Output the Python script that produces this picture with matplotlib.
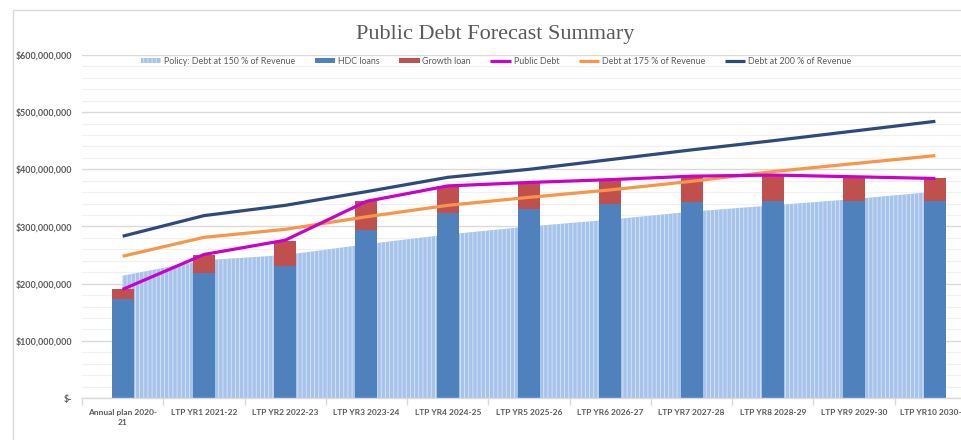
import matplotlib
matplotlib.use("Agg")
import matplotlib.pyplot as plt
import numpy as np
from matplotlib.patches import Rectangle
from matplotlib.ticker import FuncFormatter, MultipleLocator

plt.rcParams['font.family'] = ['Lato', 'DejaVu Sans']
plt.rcParams['hatch.linewidth'] = 0.6

categories = ["Annual plan 2020-\n21", "LTP YR1 2021-22", "LTP YR2 2022-23", "LTP YR3 2023-24",
              "LTP YR4 2024-25", "LTP YR5 2025-26", "LTP YR6 2026-27", "LTP YR7 2027-28",
              "LTP YR8 2028-29", "LTP YR9 2029-30", "LTP YR10 2030-31"]

policy_150 = [214e6, 241e6, 250e6, 269e6, 286e6, 300e6, 312e6, 326e6, 337e6, 348e6, 361e6]
hdc_loans = [174e6, 218e6, 231e6, 294e6, 323e6, 331e6, 339e6, 343e6, 344e6, 344e6, 344e6]
growth_loan = [16e6, 33e6, 44e6, 50e6, 48e6, 46e6, 43e6, 45e6, 46e6, 43e6, 40e6]
public_debt = [190e6, 251e6, 276e6, 344e6, 371e6, 377e6, 382e6, 388e6, 390e6, 387e6, 384e6]
debt_175 = [248e6, 281e6, 295e6, 317e6, 337e6, 351e6, 364e6, 379e6, 396e6, 410e6, 424e6]
debt_200 = [283e6, 319e6, 337e6, 361e6, 386e6, 400e6, 417e6, 434e6, 450e6, 467e6, 484e6]

W, H = 961, 440
fig = plt.figure(figsize=(W / 100, H / 100), dpi=100)

# outer chart border
fig.patches.append(Rectangle((13 / W, -0.1), 1.1, (440 - 10) / H + 0.1, transform=fig.transFigure,
                             fill=False, edgecolor='#d9d9d9', linewidth=1.0))

left, right, bottom, top = 82, 976, 398, 55
ax = fig.add_axes([left / W, (H - bottom) / H, (right - left) / W, (bottom - top) / H])

x = np.arange(len(categories))
grey = '#595959'

ax.fill_between(x, 0, policy_150, facecolor='#a6c3ec', edgecolor='#dbe6f7', hatch='||||',
                linewidth=0, zorder=1, label='Policy: Debt at 150 % of Revenue')
bw = 0.27
ax.bar(x, hdc_loans, width=bw, color='#4f81bd', zorder=2, label='HDC loans')
ax.bar(x, growth_loan, width=bw, bottom=hdc_loans, color='#c0504d', zorder=2, label='Growth loan')
ax.plot(x, public_debt, color='#cc00cc', lw=2.3, zorder=4, label='Public Debt', solid_capstyle='butt')
ax.plot(x, debt_175, color='#f79646', lw=2.3, zorder=3, label='Debt at 175 % of Revenue', solid_capstyle='butt')
ax.plot(x, debt_200, color='#2e4a7a', lw=2.3, zorder=3, label='Debt at 200 % of Revenue', solid_capstyle='butt')

ax.set_xlim(-0.5, len(categories) - 0.5)
ax.set_ylim(0, 600e6)
ax.yaxis.set_major_locator(MultipleLocator(100e6))
ax.yaxis.set_minor_locator(MultipleLocator(20e6))
ax.grid(axis='y', which='major', color='#d9d9d9', lw=1.0, zorder=0)
ax.grid(axis='y', which='minor', color='#f0f0f0', lw=0.9, zorder=0)
ax.set_axisbelow(True)

def fmt(v, pos):
    if v == 0:
        return '$-'
    return '${:,.0f}'.format(v)
ax.yaxis.set_major_formatter(FuncFormatter(fmt))

for s in ['top', 'right', 'left']:
    ax.spines[s].set_visible(False)
ax.spines['bottom'].set_color('#d9d9d9')
ax.spines['bottom'].set_linewidth(1.0)

ax.set_xticks(x)
ax.set_xticklabels(categories, fontsize=6.0, fontweight='bold', color=grey, linespacing=1.5)
ax.set_xticks(np.arange(-0.5, len(categories), 1.0), minor=True)
ax.tick_params(axis='x', which='major', length=0, pad=8)
ax.tick_params(axis='x', which='minor', length=5, color='#d9d9d9', width=1.0)
ax.tick_params(axis='y', which='both', length=0, pad=7)
for lab in ax.get_yticklabels():
    lab.set_fontsize(6.4)
    lab.set_fontweight('bold')
    lab.set_color(grey)

fig.text(495 / W, 1 - 34 / H, 'Public Debt Forecast Summary', ha='center', va='center',
         fontsize=16, color=grey, family=['Liberation Serif', 'DejaVu Serif'])

handles, labels = ax.get_legend_handles_labels()
order = ['Policy: Debt at 150 % of Revenue', 'HDC loans', 'Growth loan', 'Public Debt',
         'Debt at 175 % of Revenue', 'Debt at 200 % of Revenue']
hmap = dict(zip(labels, handles))
leg = fig.legend([hmap[k] for k in order], order, loc='center', bbox_to_anchor=(496 / W, 1 - 61 / H),
                 ncol=6, frameon=False, fontsize=6.4, handlelength=2.3, handleheight=0.6,
                 handletextpad=0.3, columnspacing=2.2, borderpad=0)
for t in leg.get_texts():
    t.set_color(grey)

fig.savefig('out.png', dpi=100)
